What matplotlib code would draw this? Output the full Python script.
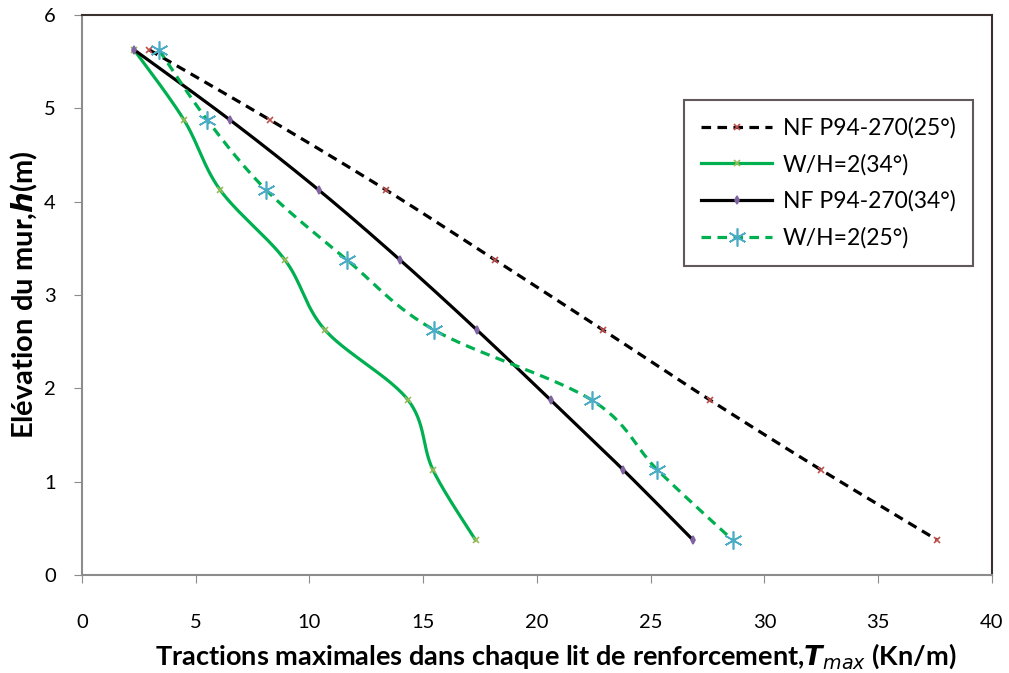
import matplotlib.pyplot as plt
import numpy as np

plt.rcParams['font.family'] = ['Lato', 'DejaVu Sans']

# hauteur des lits de renforcement (m)
h = [5.625, 4.875, 4.125, 3.375, 2.625, 1.875, 1.125, 0.375]

nf_25 = [2.95, 8.26, 13.36, 18.15, 22.9, 27.6, 32.5, 37.6]
wh_34 = [2.29, 4.48, 6.07, 8.92, 10.68, 14.33, 15.43, 17.3]
nf_34 = [2.29, 6.5, 10.4, 13.98, 17.36, 20.6, 23.8, 26.86]
wh_25 = [3.38, 5.5, 8.09, 11.65, 15.47, 22.4, 25.3, 28.6]

labels = ["NF P94-270(25°)", "W/H=2(34°)", "NF P94-270(34°)", "W/H=2(25°)"]


def smooth(x, y, n=30):
    # courbe lissee type Catmull-Rom passant par les points
    p = np.column_stack([x, y]).astype(float)
    p = np.vstack([p[0], p, p[-1]])
    out = []
    t = np.linspace(0, 1, n)[:, None]
    for i in range(1, len(p) - 2):
        p0, p1, p2, p3 = p[i - 1], p[i], p[i + 1], p[i + 2]
        c = 0.5 * ((2 * p1) + (-p0 + p2) * t + (2 * p0 - 5 * p1 + 4 * p2 - p3) * t ** 2
                   + (-p0 + 3 * p1 - 3 * p2 + p3) * t ** 3)
        out.append(c if i == 1 else c[1:])
    c = np.vstack(out)
    return c[:, 0], c[:, 1]


fig = plt.figure(figsize=(10.09, 6.73), dpi=100)
ax = fig.add_axes([0.0813, 0.1456, 0.9017, 0.8324])

green = '#00B050'
series = [
    (nf_25, 'black', (0, (3, 2)), 'x', '#C0504D', 5),
    (wh_34, green, '-', 'x', '#9BBB59', 5),
    (nf_34, 'black', '-', 'd', '#8064A2', 4),
    (wh_25, green, (0, (3, 2)), (6, 2, 0), '#4BACC6', 13),
]

for (vals, col, ls, mk, mcol, ms), lab in zip(series, labels):
    xs, ys = smooth(vals, h)
    ax.plot(xs, ys, color=col, ls=ls, lw=2.3)
    ax.plot(vals, h, ls='none', marker=mk, color=mcol, ms=ms, mew=1.2)
    ax.plot([], [], color=col, ls=ls, lw=2.3, marker=mk, mfc=mcol, mec=mcol,
            ms=ms, mew=1.2, label=lab)

ax.set_xlim(0, 40)
ax.set_ylim(0, 6)
ax.set_xticks(range(0, 41, 5))
ax.set_yticks(range(0, 7))
ax.tick_params(direction='out', length=6, color='#8c8c8c', labelsize=14.5)
ax.tick_params(axis='x', pad=22)
ax.tick_params(axis='y', pad=13)
for s in ['left', 'bottom']:
    ax.spines[s].set_color('#8c8c8c')
for s in ['top', 'right']:
    ax.spines[s].set_color('#3a3030')
for s in ax.spines.values():
    s.set_linewidth(1.5)

ax.set_xlabel(r"Tractions maximales dans chaque lit de renforcement,$\mathbfit{T}_{\mathit{max}}$ (Kn/m)",
              fontsize=19.5, fontweight='bold', va='center')
ax.xaxis.set_label_coords(0.521, -0.145)
ax.set_ylabel(r"Elévation du mur,$\mathbfit{h}$(m)", fontsize=21, fontweight='bold', labelpad=3)

leg = ax.legend(loc='upper right', bbox_to_anchor=(0.979, 0.848), fontsize=16.5,
                frameon=True, fancybox=False, edgecolor='#3a3030', handlelength=3.1,
                labelspacing=0.66, borderpad=0.75, handletextpad=0.45, borderaxespad=0)
leg.get_frame().set_linewidth(1.5)

fig.savefig('out.png', dpi=100)
